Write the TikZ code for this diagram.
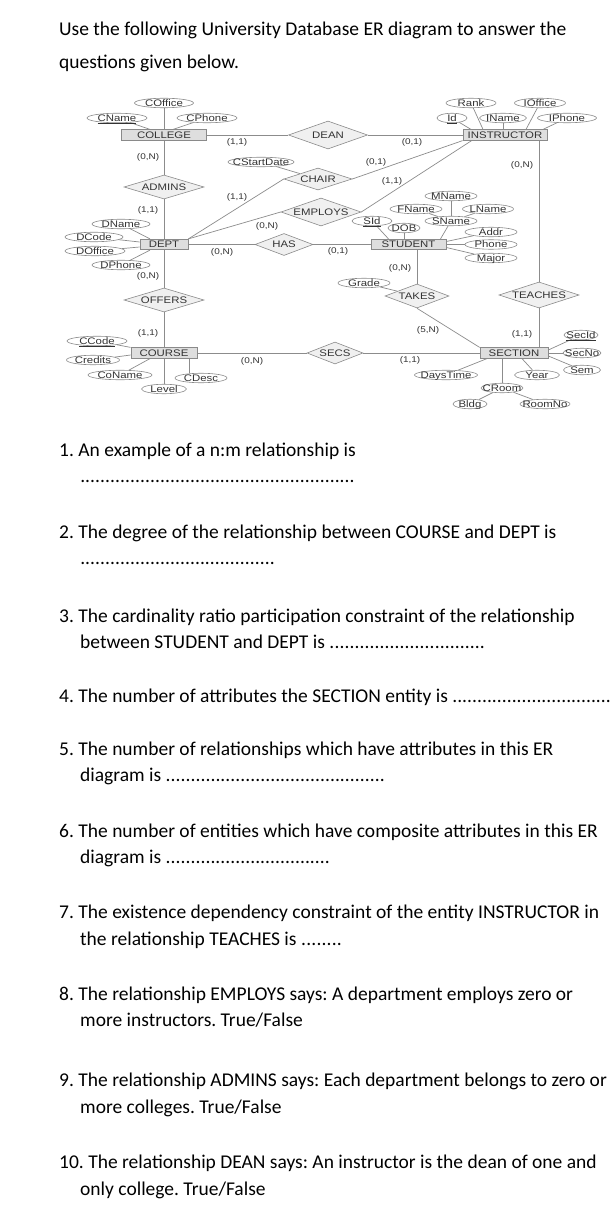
\documentclass[tikz,border=0pt]{standalone}
\usepackage{fontspec}
\setmainfont{Carlito}
\newfontfamily\erfont[FakeStretch=1.2]{Liberation Sans}
\usetikzlibrary{shapes.geometric,backgrounds}
\definecolor{ln}{HTML}{8C8C8C}
\definecolor{brd}{HTML}{8A8A8A}
\definecolor{entfill}{HTML}{DEDEDE}
\definecolor{relfill}{HTML}{F0F0F0}
\definecolor{txt}{HTML}{333333}
\newcommand\qdots{\xleaders\hbox{.}\hfill}
\frenchspacing
\begin{document}
\frenchspacing
\begin{tikzpicture}[x=1pt,y=-1pt,
  erf/.style={font=\erfont\fontsize{9.5}{9.5}\selectfont, text=txt, text height=6.8pt, text depth=0pt},
  ent/.style={erf, rectangle, draw=brd, fill=entfill, line width=0.7pt, inner sep=0pt, minimum height=10.5pt, minimum width=#1},
  rel/.style n args={2}{erf, diamond, draw=brd, fill=relfill, line width=0.6pt, inner sep=-40pt, minimum width=#1, minimum height=#2},
  attr/.style={erf, ellipse, draw=brd, fill=white, line width=0.6pt, inner xsep=-45pt, inner ysep=-10pt, minimum height=9.5pt, minimum width=#1},
  card/.style={font=\erfont\fontsize{8.3}{8.3}\selectfont, text=txt, inner sep=0pt},
  conn/.style={draw=ln, line width=0.7pt},
  q/.style={anchor=base west, inner sep=0pt, font=\fontsize{19.5}{23}\selectfont, text=black}]
\useasboundingbox (0,0) rectangle (613,1206);

% ---------- entities ----------
\node[ent=85pt] (COLLEGE) at (164,135) {COLLEGE};
\node[ent=84pt] (INSTRUCTOR) at (505,135) {INSTRUCTOR};
\node[ent=48pt] (DEPT) at (164,244.5) {DEPT};
\node[ent=75pt] (STUDENT) at (408.5,244.5) {STUDENT};
\node[ent=66pt] (COURSE) at (164,353) {COURSE};
\node[ent=68pt] (SECTION) at (514,353) {SECTION};

% ---------- relationships ----------
\node[rel={79pt}{28pt}] (DEAN) at (328,135) {DEAN};
\node[rel={80pt}{24pt}] (ADMINS) at (164,187) {ADMINS};
\node[rel={68pt}{22pt}] (CHAIR) at (318,179) {CHAIR};
\node[rel={80pt}{28pt}] (EMPLOYS) at (321,212) {EMPLOYS};
\node[rel={58pt}{22pt}] (HAS) at (284,244.5) {HAS};
\node[rel={80pt}{24pt}] (OFFERS) at (164,300) {OFFERS};
\node[rel={64pt}{24pt}] (TAKES) at (417,296) {TAKES};
\node[rel={80pt}{26pt}] (TEACHES) at (539,295) {TEACHES};
\node[rel={56pt}{22pt}] (SECS) at (335,353) {SECS};

% ---------- attributes ----------
\node[attr=59pt] (COffice) at (164,103) {COffice};
\node[attr=60pt] (CName) at (117,118) {\underline{CName}};
\node[attr=60pt] (CPhone) at (207,118) {CPhone};
\node[attr=50pt] (Rank) at (471,103) {Rank};
\node[attr=51pt] (IOffice) at (540,103) {IOffice};
\node[attr=30pt] (Id) at (452,118) {\underline{Id}};
\node[attr=47pt] (IName) at (503,118) {IName};
\node[attr=59pt] (IPhone) at (567,118) {IPhone};
\node[attr=66pt] (CStartDate) at (261,162) {CStartDate};
\node[attr=52pt] (MName) at (451,196) {MName};
\node[attr=52pt] (FName) at (416,209) {FName};
\node[attr=51pt] (LName) at (488,209) {LName};
\node[attr=52pt] (SName) at (451,221) {SName};
\node[attr=40pt] (SId) at (372,221) {\underline{SId}};
\node[attr=32pt] (DOB) at (404,228) {DOB};
\node[attr=52pt] (Addr) at (491,232) {Addr};
\node[attr=52pt] (Phone) at (491,244.5) {Phone};
\node[attr=52pt] (Major) at (491,258) {Major};
\node[attr=52pt] (Grade) at (364,283) {Grade};
\node[attr=58pt] (DName) at (121,224) {DName};
\node[attr=58pt] (DCode) at (94,237) {DCode};
\node[attr=60pt] (DOffice) at (95,251) {DOffice};
\node[attr=58pt] (DPhone) at (121,265) {DPhone};
\node[attr=60pt] (CCode) at (97,341) {\underline{CCode}};
\node[attr=53pt] (Credits) at (93,360) {Credits};
\node[attr=64pt] (CoName) at (120,375) {CoName};
\node[attr=45pt] (Level) at (164,389) {Level};
\node[attr=52pt] (CDesc) at (201,378) {CDesc};
\node[attr=34pt] (SecId) at (581,335) {\underline{SecId}};
\node[attr=38pt] (SecNo) at (582,353) {SecNo};
\node[attr=37pt] (Sem) at (582,370) {Sem};
\node[attr=45pt] (Year) at (537,375) {Year};
\node[attr=63pt] (DaysTime) at (446,375) {DaysTime};
\node[attr=42pt] (CRoom) at (502,388) {CRoom};
\node[attr=34pt] (Bldg) at (470,404) {Bldg};
\node[attr=50pt] (RoomNo) at (545,404) {RoomNo};

% ---------- cardinalities ----------
\node[card] (c1) at (237,142) {(1,1)};
\node[card] (c2) at (412,142) {(0,1)};
\node[card] (c3) at (148,157) {(0,N)};
\node[card] (c4) at (148,210) {(1,1)};
\node[card] (c5) at (148,276) {(0,N)};
\node[card] (c6) at (148,333) {(1,1)};
\node[card] (c7) at (252,361) {(0,N)};
\node[card] (c8) at (410,360) {(1,1)};
\node[card] (c9) at (428,330) {(5,N)};
\node[card] (c10) at (400,268) {(0,N)};
\node[card] (c11) at (522,334) {(1,1)};
\node[card] (c12) at (522,165) {(0,N)};
\node[card] (c13) at (376,162) {(0,1)};
\node[card] (c14) at (392,181) {(1,1)};
\node[card] (c15) at (237,197) {(1,1)};
\node[card] (c16) at (267,226) {(0,N)};
\node[card] (c17) at (222,252) {(0,N)};
\node[card] (c18) at (338,251) {(0,1)};

% ---------- connectors ----------
\begin{pgfonlayer}{background}
\fill[white] (0,0) rectangle (613,1206);
% relationships
\draw[conn] (COLLEGE.east) -- (DEAN.west);
\draw[conn] (DEAN.east) -- (INSTRUCTOR.west);
\draw[conn] (COLLEGE.south) -- (ADMINS.north);
\draw[conn] (ADMINS.south) -- (DEPT.north);
\draw[conn] (DEPT.south) -- (OFFERS.north);
\draw[conn] (OFFERS.south) -- (COURSE.north);
\draw[conn] (DEPT.north east) -- (CHAIR.west);
\draw[conn] (CHAIR.east) -- (INSTRUCTOR.south west);
\draw[conn] (DEPT.north east) -- (EMPLOYS.west);
\draw[conn] (EMPLOYS.east) -- ([xshift=9pt]INSTRUCTOR.south west);
\draw[conn] (DEPT.east) -- (HAS.west);
\draw[conn] (HAS.east) -- (STUDENT.west);
\draw[conn] (TEACHES.north) -- (TEACHES.north |- INSTRUCTOR.south);
\draw[conn] (TEACHES.south) -- (TEACHES.south |- SECTION.north);
\draw[conn] (TAKES.north) -- (TAKES.north |- STUDENT.south);
\draw[conn] (TAKES.south) -- (SECTION.north west);
\draw[conn] (COURSE.east) -- (SECS.west);
\draw[conn] (SECS.east) -- (SECTION.west);
% attributes
\draw[conn] (COffice) -- (COLLEGE.north);
\draw[conn] (CName) -- ([xshift=-14pt]COLLEGE.north);
\draw[conn] (CPhone) -- ([xshift=9pt]COLLEGE.north);
\draw[conn] (Id) -- ([xshift=-34pt]INSTRUCTOR.north);
\draw[conn] (Rank) -- ([xshift=-22pt]INSTRUCTOR.north);
\draw[conn] (IName) -- (IName |- INSTRUCTOR.north);
\draw[conn] (IOffice) -- ([xshift=21pt]INSTRUCTOR.north);
\draw[conn] (IPhone) -- ([xshift=38pt]INSTRUCTOR.north);
\draw[conn] (CStartDate) -- (CHAIR);
\draw[conn] (DName) -- ([xshift=-14pt]DEPT.north);
\draw[conn] (DCode) -- ([yshift=2.5pt]DEPT.west);
\draw[conn] (DOffice) -- ([yshift=-2.5pt]DEPT.west);
\draw[conn] (DPhone) -- ([xshift=-14pt]DEPT.south);
\draw[conn] (MName) -- (SName);
\draw[conn] (FName) -- (SName);
\draw[conn] (LName) -- (SName);
\draw[conn] (SId) -- ([xshift=-20pt]STUDENT.north);
\draw[conn] (DOB) -- (DOB |- STUDENT.north);
\draw[conn] (SName) -- ([xshift=32pt]STUDENT.north);
\draw[conn] (Addr) -- ([yshift=3pt]STUDENT.east);
\draw[conn] (Phone) -- (STUDENT.east);
\draw[conn] (Major) -- ([yshift=-3pt]STUDENT.east);
\draw[conn] (Grade) -- (TAKES);
\draw[conn] (CCode) -- (COURSE.north west);
\draw[conn] (Credits) -- ([yshift=-2pt]COURSE.west);
\draw[conn] (CoName) -- ([xshift=-14pt]COURSE.south);
\draw[conn] (Level) -- (COURSE.south);
\draw[conn] ([xshift=25pt]COURSE.south) -- ([xshift=25pt]COURSE.south |- CDesc.north);
\draw[conn] (SecId) -- ([yshift=3pt]SECTION.east);
\draw[conn] (SecNo) -- (SECTION.east);
\draw[conn] (Sem) -- ([yshift=-3pt]SECTION.east);
\draw[conn] (Year) -- ([xshift=8pt]SECTION.south);
\draw[conn] (DaysTime) -- ([xshift=-27pt]SECTION.south);
\draw[conn] (CRoom) -- (CRoom |- SECTION.south);
\draw[conn] (Bldg) -- (CRoom);
\draw[conn] (RoomNo) -- (CRoom);
\end{pgfonlayer}

% ---------- text ----------
\node[q] (h1) at (59,36) {Use the following University Database ER diagram to answer the};
\node[q] (h2) at (59,69) {questions given below.};
\node[q] (q1a) at (59,456) {1. An example of a n:m relationship is};
\node[q] (q1b) at (80,482) {\hbox to 275pt{\qdots}};
\node[q] (q2a) at (59,538) {2. The degree of the relationship between COURSE and DEPT is};
\node[q] (q2b) at (80,564) {\hbox to 195pt{\qdots}};
\node[q] (q3a) at (59,622) {3. The cardinality ratio participation constraint of the relationship};
\node[q] (q3b) at (80,648) {\hbox to 405pt{between STUDENT and DEPT is \qdots}};
\node[q] (q4a) at (59,702) {\hbox to 552pt{4. The number of attributes the SECTION entity is \qdots}};
\node[q] (q5a) at (59,755) {5. The number of relationships which have attributes in this ER};
\node[q] (q5b) at (80,781) {\hbox to 305pt{diagram is \qdots}};
\node[q] (q6a) at (59,837) {6. The number of entities which have composite attributes in this ER};
\node[q] (q6b) at (80,863) {\hbox to 250pt{diagram is \qdots}};
\node[q] (q7a) at (59,918) {7. The existence dependency constraint of the entity INSTRUCTOR in};
\node[q] (q7b) at (80,945) {\hbox to 262pt{the relationship TEACHES is \qdots}};
\node[q] (q8a) at (59,1000) {8. The relationship EMPLOYS says: A department employs zero or};
\node[q] (q8b) at (80,1026) {more instructors. True/False};
\node[q] (q9a) at (59,1086) {9. The relationship ADMINS says: Each department belongs to zero or};
\node[q] (q9b) at (80,1113) {more colleges. True/False};
\node[q] (q10a) at (59,1168) {10. The relationship DEAN says: An instructor is the dean of one and};
\node[q] (q10b) at (80,1195) {only college. True/False};
\end{tikzpicture}
\end{document}
